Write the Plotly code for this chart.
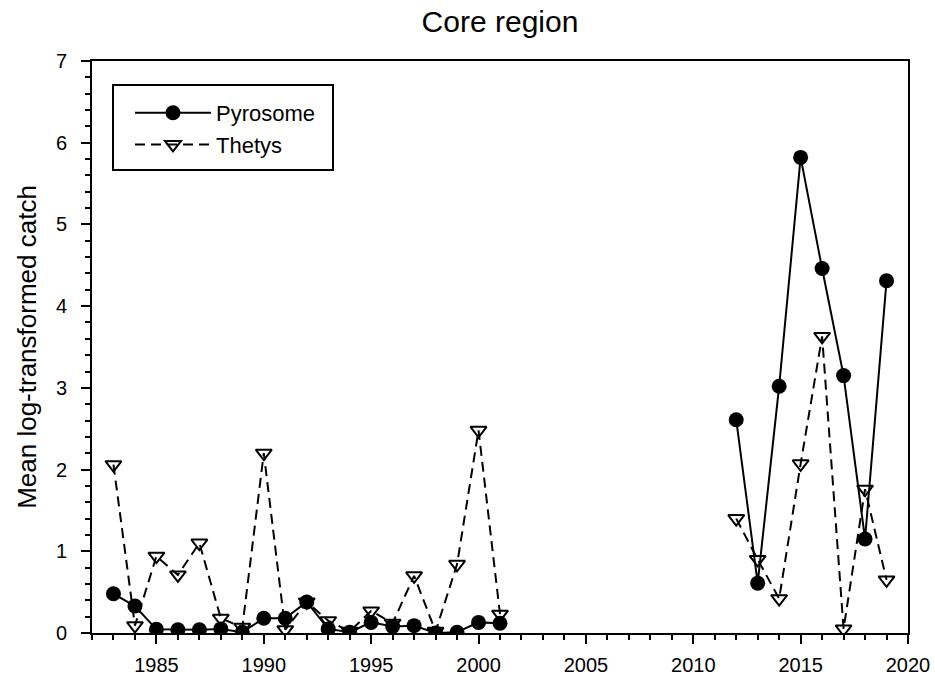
import plotly.graph_objects as go

years = list(range(1983, 2002)) + list(range(2002, 2012)) + list(range(2012, 2020))

pyrosome_early = [0.48, 0.33, 0.045, 0.04, 0.04, 0.05, 0.01, 0.18, 0.18, 0.38,
                  0.05, 0.01, 0.13, 0.08, 0.09, 0.0, 0.01, 0.13, 0.12]
pyrosome_late = [2.61, 0.61, 3.02, 5.82, 4.46, 3.15, 1.15, 4.31]

thetys_early = [2.06, 0.09, 0.94, 0.71, 1.10, 0.18, 0.07, 2.20, 0.04, 0.38,
                0.15, 0.02, 0.27, 0.12, 0.70, 0.02, 0.84, 2.48, 0.23]
thetys_late = [1.40, 0.90, 0.42, 2.07, 3.63, 0.05, 1.76, 0.65]

gap = [None] * 10
pyrosome = pyrosome_early + gap + pyrosome_late
thetys = thetys_early + gap + thetys_late

FONT = "Liberation Sans, Arial, sans-serif"
W, H = 935, 677
L, R, T, B = 92, 27, 61, 44
PW, PH = W - L - R, H - T - B


def px_x(p):
    return (p - L) / PW


def px_y(p):
    return (H - B - p) / PH


fig = go.Figure()
fig.add_trace(go.Scatter(
    x=years, y=pyrosome, name="Pyrosome", mode="lines+markers",
    line=dict(color="black", width=2),
    marker=dict(symbol="circle", size=15, color="black"),
    connectgaps=False,
))
fig.add_trace(go.Scatter(
    x=years, y=thetys, name="Thetys", mode="lines+markers",
    line=dict(color="black", width=2, dash="10px,6px"),
    marker=dict(symbol="triangle-down-open", size=14, color="black",
                line=dict(width=2, color="black")),
    connectgaps=False,
))

fig.update_layout(
    width=W, height=H,
    margin=dict(l=L, r=R, t=T, b=B),
    paper_bgcolor="white", plot_bgcolor="white",
    font=dict(family=FONT, size=20, color="black"),
    title=dict(text="Core region", x=0.5, xref="paper", xanchor="center",
               y=1 - 21 / H, yanchor="middle", font=dict(size=30)),
    showlegend=True,
    legend=dict(x=px_x(130), y=px_y(92), xanchor="left", yanchor="top",
                borderwidth=0, bgcolor="rgba(0,0,0,0)",
                font=dict(size=22), itemwidth=76),
    shapes=[dict(type="rect", xref="paper", yref="paper",
                 x0=px_x(113), x1=px_x(333), y0=px_y(170), y1=px_y(85),
                 line=dict(color="black", width=2), layer="above")],
)
fig.update_xaxes(
    range=[1982, 2020], tickmode="array",
    tickvals=[1985, 1990, 1995, 2000, 2005, 2010, 2015, 2020],
    ticks="outside", ticklen=9, tickwidth=2, tickcolor="black",
    minor=dict(dtick=1, tick0=1982, ticks="outside", ticklen=5, tickwidth=2, tickcolor="black"),
    showline=True, linecolor="black", linewidth=2, mirror=True,
    showgrid=False, zeroline=False, tickfont=dict(size=20),
    ticklabelstandoff=4, automargin=False,
)
fig.update_yaxes(
    range=[0, 7], tickmode="array", tickvals=[0, 1, 2, 3, 4, 5, 6, 7],
    ticks="outside", ticklen=9, tickwidth=2, tickcolor="black",
    minor=dict(dtick=0.2, tick0=0, ticks="outside", ticklen=5, tickwidth=2, tickcolor="black"),
    showline=True, linecolor="black", linewidth=2, mirror=True,
    showgrid=False, zeroline=False, tickfont=dict(size=20),
    ticklabelstandoff=10, automargin=False,
    title=dict(text="Mean log-transformed catch", font=dict(size=26), standoff=12),
)

fig.write_html("out.html")
